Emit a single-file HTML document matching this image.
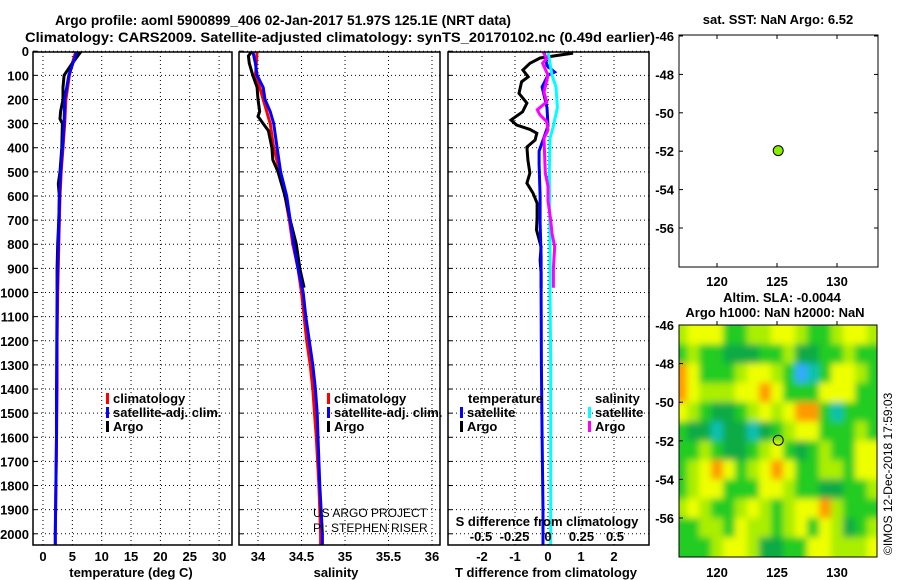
<!DOCTYPE html>
<html><head><meta charset="utf-8"><style>
html,body{margin:0;padding:0;background:#fff;}
svg{display:block;font-family:"Liberation Sans",sans-serif;}
.b{font-weight:bold;font-size:13px;}
</style></head><body>
<svg id="fig" width="900" height="580" viewBox="0 0 900 580" xmlns="http://www.w3.org/2000/svg">
<defs>
<filter id="blur" x="0" y="0" width="100%" height="100%"><feGaussianBlur stdDeviation="3.5"/></filter>
<clipPath id="c1"><rect x="33" y="52" width="199" height="493"/></clipPath>
<clipPath id="c2"><rect x="239" y="52" width="201" height="493"/></clipPath>
<clipPath id="c3"><rect x="448" y="52" width="201" height="493"/></clipPath>
<clipPath id="cm"><rect x="679" y="325" width="198" height="232"/></clipPath>
</defs>
<text x="283" y="25" text-anchor="middle" font-size="14" font-weight="bold" textLength="456" lengthAdjust="spacingAndGlyphs">Argo profile: aoml 5900899_406 02-Jan-2017 51.97S 125.1E (NRT data)</text>
<text x="340" y="42" text-anchor="middle" font-size="14" font-weight="bold" textLength="630" lengthAdjust="spacingAndGlyphs">Climatology: CARS2009. Satellite-adjusted climatology: synTS_20170102.nc (0.49d earlier)</text>
<g id="g"></g>
</svg>
<script>
// ---- data ----
var depthT = [0,50,100,200,300,400,500,600,800,1000,1200,1400,1600,1800,2000,2050];
var tempClim = [5.6,5.0,4.5,3.9,3.7,3.4,3.1,2.9,2.7,2.5,2.4,2.4,2.3,2.2,2.1,2.1];
var tempSat = [5.8,5.1,4.4,3.7,3.6,3.3,3.0,2.8,2.6,2.4,2.35,2.3,2.3,2.2,2.1,2.1];
var depthArgo = [0,50,100,150,200,250,280,300,400,500,550,600,700,800,900,990];
var tempArgo = [6.5,5.0,3.6,3.4,3.4,3.0,2.9,3.3,3.2,2.9,2.6,2.8,2.7,2.5,2.4,2.4];
var depthS = [0,50,100,150,200,250,300,400,500,600,700,800,900,1000,1100,1200,1300,1400,1500,1600,1800,2000,2050];
var salClim = [33.99,33.98,33.97,34.02,34.06,34.10,34.14,34.18,34.25,34.31,34.36,34.40,34.46,34.50,34.53,34.56,34.60,34.63,34.65,34.67,34.70,34.72,34.72];
var salSat = [33.94,33.97,33.99,34.06,34.08,34.14,34.18,34.22,34.26,34.33,34.37,34.41,34.46,34.52,34.55,34.59,34.63,34.66,34.68,34.69,34.71,34.74,34.74];
var depthSA = [0,20,50,100,150,200,250,270,300,330,400,450,500,600,700,800,900,980];
var salArgo = [33.93,33.89,33.90,33.94,33.99,34.00,34.02,34.00,34.06,34.12,34.16,34.17,34.23,34.31,34.37,34.44,34.48,34.53];
var depthD = [8,28,50,78,106,127,175,215,251,285,306,324,340,368,397,451,505,547,589,630,687,741,811,866,920,982];
var tDiffArgo = [0.76,-0.24,-0.55,-0.76,-0.6,-0.8,-0.88,-0.64,-0.77,-1.12,-0.95,-0.55,-0.34,-0.39,-0.64,-0.61,-0.55,-0.64,-0.45,-0.33,-0.33,-0.35,-0.21,-0.24,-0.21,-0.21];
var depthDS = [0,60,86,100,148,234,310,414,469,600,710,850,1000,1300,1600,1900,2050];
var tDiffSat = [-0.12,-0.03,0.2,0.0,-0.18,-0.03,0.0,-0.27,-0.27,-0.24,-0.24,-0.21,-0.21,-0.2,-0.18,-0.15,-0.15];
var depthSD = [0,30,50,100,170,210,243,264,292,326,361,505,560,620,700,755,810,900,980];
var sDiffArgo = [-0.04,-0.01,-0.04,0.0,-0.03,-0.01,-0.08,-0.06,-0.01,0.0,-0.03,-0.02,0.0,0.0,0.02,0.03,0.05,0.04,0.04];
var depthSS = [0,100,148,234,310,361,505,800,1000,1300,1600,1900,2050];
var sDiffSat = [0.0,0.03,0.06,0.07,0.04,0.015,0.01,0.015,0.015,0.02,0.02,0.02,0.02];
var depthTicks = [0,100,200,300,400,500,600,700,800,900,1000,1100,1200,1300,1400,1500,1600,1700,1800,1900,2000];
var tempTicks = [0,5,10,15,20,25,30];
var salTicks = [34,34.5,35,35.5,36];
var tdTicks = [-2,-1,0,1,2];
var sdTicks = [-0.5,-0.25,0,0.25,0.5];
var latTicks = [-46,-48,-50,-52,-54,-56];
var lonTicks = [120,125,130];
var floatLon = [125.1];
var floatLat = [-51.97];
var slaLons = [117,118,119,120,121,122,123,124,125,126,127,128,129,130,131,132,133];
var slaLats = [-46.5,-47.5,-48.5,-49.5,-50.5,-51.5,-52.5,-53.5,-54.5,-55.5,-56.5,-57.5];
var slaRow0 = [1,2,2,2,0,0,1,1,2,2,1,0,0,1,2,2,1];
var slaRow1 = [0,1,0,0,-1,-1,-1,0,0,1,-1,-1,0,0,1,0,0];
var slaRow2 = [3,2,0,0,0,1,2,2,1,0,-3,-2,0,2,2,1,0];
var slaRow3 = [3,2,1,1,1,2,2,3,2,0,0,0,2,2,2,0,0];
var slaRow4 = [2,1,0,-1,-1,0,1,2,1,2,3,3,0,-2,0,0,0];
var slaRow5 = [0,-1,-1,-2,-1,-1,-2,-1,0,1,2,2,0,0,0,1,0];
var slaRow6 = [0,0,1,0,-1,-1,0,1,2,0,-1,0,1,0,0,2,2];
var slaRow7 = [0,1,2,3,2,0,1,2,3,2,0,0,1,1,0,2,2];
var slaRow8 = [0,1,2,2,0,0,0,2,2,1,0,0,-1,-1,0,0,1];
var slaRow9 = [1,2,1,0,0,1,2,1,0,1,2,2,3,1,0,0,0];
var slaRow10 = [0,0,1,1,0,2,1,1,0,1,2,0,2,1,-1,0,1];
var slaRow11 = [0,0,0,1,2,2,1,-1,-1,0,0,2,2,1,1,1,2];
var slaGrid = [slaRow0,slaRow1,slaRow2,slaRow3,slaRow4,slaRow5,slaRow6,slaRow7,slaRow8,slaRow9,slaRow10,slaRow11];

// ---- scales ----
var NS="http://www.w3.org/2000/svg";
var G=document.getElementById('g');
function yD(d){return 51.2+d*0.2413;}
function xT(t){return 43+t*5.87;}
function xS(s){return 258+(s-34)*87;}
function xTD(v){return 548+v*33;}
function xSD(v){return 548+v*134;}
function xLon(l){return 717+(l-120)*12;}
function yLat1(l){return 36+(-46-l)*19.2;}
function yLat2(l){return 325+(-46-l)*19.3;}
function mk(tag,attrs,parent){var e=document.createElementNS(NS,tag);for(var k in attrs)e.setAttribute(k,attrs[k]);(parent||G).appendChild(e);return e;}
function txt(x,y,s,anchor,cls,parent){var e=mk('text',{x:x,y:y,'text-anchor':anchor||'start','class':cls||'b'},parent);e.textContent=s;return e;}

var panels=[{x0:33,x1:232,clip:'c1',name:'temperature-panel'},{x0:239,x1:440,clip:'c2',name:'salinity-panel'},{x0:448,x1:649,clip:'c3',name:'difference-panel'}];
var gridX=[tempTicks.map(xT),salTicks.map(xS),tdTicks.map(xTD)];
panels.forEach(function(p,i){
  var pg=mk('g',{});
  
  
  depthTicks.forEach(function(d){
    var l=mk('line',{x1:p.x0,x2:p.x1,y1:yD(d),y2:yD(d),stroke:'#000','stroke-width':1,'stroke-dasharray':'1,3'},pg);
    
    
    mk('line',{x1:p.x0,x2:p.x0+4,y1:yD(d),y2:yD(d),stroke:'#000'},pg);
  });
  gridX[i].forEach(function(x){
    var l=mk('line',{x1:x,x2:x,y1:52,y2:545,stroke:'#000','stroke-width':1,'stroke-dasharray':'1,3'},pg);
    
    
  });
  p.g=pg;
});

function series(xs,ds,fx,color,clip,name){
  var pts=xs.map(function(v,i){return fx(v).toFixed(1)+','+yD(ds[i]).toFixed(1);}).join(' ');
  var e=mk('polyline',{points:pts,fill:'none',stroke:color,'stroke-width':3,'clip-path':'url(#'+clip+')'});
  
  
}
series(tempClim,depthT,xT,'#ff0000','c1','temp-climatology-line');
series(tempArgo,depthArgo,xT,'#000','c1','temp-argo-line');
series(tempSat,depthT,xT,'#0000ff','c1','temp-satellite-line');
series(salClim,depthS,xS,'#ff0000','c2','sal-climatology-line');
series(salArgo,depthSA,xS,'#000','c2','sal-argo-line');
series(salSat,depthS,xS,'#0000ff','c2','sal-satellite-line');
series(tDiffArgo,depthD,xTD,'#000','c3','tdiff-argo-line');
series(tDiffSat,depthDS,xTD,'#0000ff','c3','tdiff-satellite-line');
series(sDiffSat,depthSS,xSD,'#00ffff','c3','sdiff-satellite-line');
series(sDiffArgo,depthSD,xSD,'#ff00ff','c3','sdiff-argo-line');

panels.forEach(function(p){
  var r=mk('rect',{x:p.x0,y:52,width:p.x1-p.x0,height:493,fill:'none',stroke:'#000','stroke-width':1.5});
  
  
});

depthTicks.forEach(function(d){
  var t=txt(29,yD(d)+5,String(d),'end');
  
  
});
tempTicks.forEach(function(v){var t=txt(xT(v),561,String(v),'middle');});
salTicks.forEach(function(v){var t=txt(xS(v),561,String(v),'middle');});
tdTicks.forEach(function(v){var t=txt(xTD(v),561,String(v),'middle');});
sdTicks.forEach(function(v){var t=txt(xSD(v),541,String(v),'middle');});
var at;
at=txt(131,577,'temperature (deg C)','middle');
at=txt(336,577,'salinity','middle');
at=txt(546,577,'T difference from climatology','middle');
at=txt(547,526,'S difference from climatology','middle');

function legend(x,y,color,label,name){
  var lg=mk('g',{});
  
  
  mk('rect',{x:x,y:y-10,width:3,height:11,fill:color},lg);
  txt(x+7,y,label,'start','b',lg);
}
legend(106,403,'#ff0000','climatology','legend-temp-climatology');
legend(106,417,'#0000ff','satellite-adj. clim.','legend-temp-satellite');
legend(106,431,'#000','Argo','legend-temp-argo');
legend(327,403,'#ff0000','climatology','legend-sal-climatology');
legend(327,417,'#0000ff','satellite-adj. clim.','legend-sal-satellite');
legend(327,431,'#000','Argo','legend-sal-argo');
at=txt(468,403,'temperature','start');
legend(460,417,'#0000ff','satellite','legend-tdiff-satellite');
legend(460,431,'#000','Argo','legend-tdiff-argo');
at=txt(595,403,'salinity','start');
legend(588,417,'#00ffff','satellite','legend-sdiff-satellite');
legend(588,431,'#ff00ff','Argo','legend-sdiff-argo');
at=mk('text',{x:313,y:517,'font-size':12,fill:'#000','clip-path':'url(#c2)'});at.textContent='US ARGO PROJECT';
at=mk('text',{x:313,y:532,'font-size':12,fill:'#000','clip-path':'url(#c2)'});at.textContent='PI: STEPHEN RISER';

// ---- map 1 ----
var m1=mk('g',{});


mk('rect',{x:679,y:35,width:199,height:232,fill:'#fff',stroke:'#000','stroke-width':1},m1);
latTicks.forEach(function(l){var y=yLat1(l);mk('line',{x1:679,x2:683,y1:y,y2:y,stroke:'#000'},m1);mk('line',{x1:874,x2:878,y1:y,y2:y,stroke:'#000'},m1);var t=txt(674,y+5,String(l),'end','b',m1);});
lonTicks.forEach(function(l){var x=xLon(l);mk('line',{x1:x,x2:x,y1:263,y2:267,stroke:'#000'},m1);mk('line',{x1:x,x2:x,y1:35,y2:39,stroke:'#000'},m1);var t=txt(x,286,String(l),'middle','b',m1);});
at=txt(778,24,'sat. SST: NaN Argo: 6.52','middle','b',m1);at.setAttribute('font-size','12');
at=mk('circle',{cx:xLon(floatLon[0]),cy:yLat1(floatLat[0]),r:5,fill:'#88ee00',stroke:'#000','stroke-width':1},m1);


// ---- map 2 ----
var m2=mk('g',{});


var pal={'-3':'#33aaff','-2':'#11c0b0','-1':'#11aa44','0':'#22cc22','1':'#aaee00','2':'#eeff00','3':'#ff9900'};
var hg=mk('g',{filter:'url(#blur)'},mk('g',{'clip-path':'url(#cm)'},m2));
slaGrid.forEach(function(row,ri){
  row.forEach(function(v,ci){
    var x0=xLon(slaLons[ci]-0.5),x1=xLon(slaLons[ci]+0.5),y0=yLat2(slaLats[ri]+0.5),y1=yLat2(slaLats[ri]-0.5);
    var c=mk('rect',{x:x0-(ci==0?12:0),y:y0-(ri==0?12:0),width:x1-x0+(ci==0?12:0)+(ci==row.length-1?12:0)+0.5,height:y1-y0+(ri==0?12:0)+(ri==slaGrid.length-1?12:0)+0.5,fill:pal[String(v)]},hg);
    
    
  });
});
mk('rect',{x:679,y:325,width:198,height:232,fill:'none',stroke:'#000','stroke-width':1},m2);
latTicks.forEach(function(l){var y=yLat2(l);mk('line',{x1:679,x2:683,y1:y,y2:y,stroke:'#000'},m2);var t=txt(674,y+5,String(l),'end','b',m2);});
lonTicks.forEach(function(l){var x=xLon(l);mk('line',{x1:x,x2:x,y1:321,y2:325,stroke:'#000'},m2);var t=txt(x,577,String(l),'middle','b',m2);});
at=txt(782,302,'Altim. SLA: -0.0044','middle','b',m2);at.setAttribute('font-size','12');
at=txt(775,317,'Argo h1000: NaN h2000: NaN','middle','b',m2);at.setAttribute('font-size','12');
at=mk('circle',{cx:xLon(floatLon[0]),cy:yLat2(floatLat[0]),r:5,fill:'none',stroke:'#000','stroke-width':1},m2);

at=mk('text',{x:0,y:0,'font-size':12,transform:'translate(892,555) rotate(-90)',fill:'#000'});
at.textContent='©IMOS 12-Dec-2018 17:59:03';

</script>
</body></html>
